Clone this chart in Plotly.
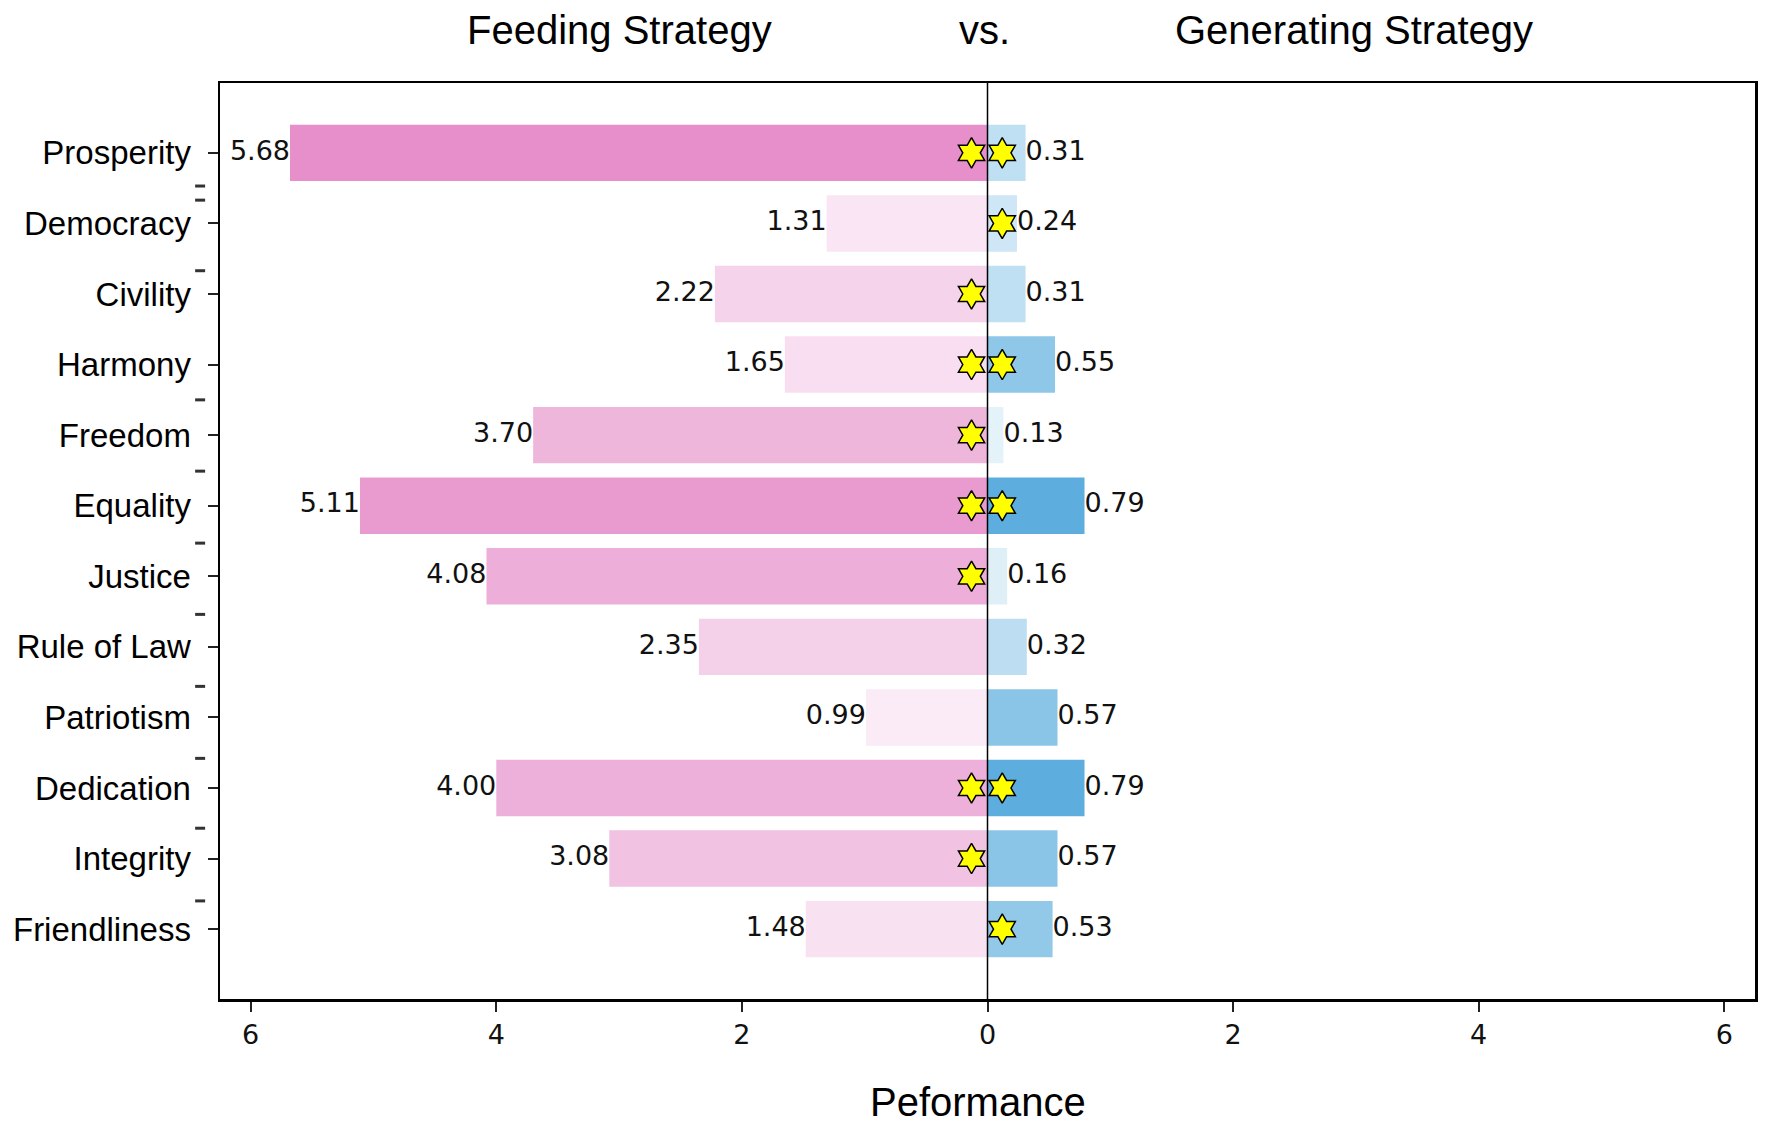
import plotly.graph_objects as go

categories = ["Prosperity", "Democracy", "Civility", "Harmony", "Freedom", "Equality",
              "Justice", "Rule of Law", "Patriotism", "Dedication", "Integrity", "Friendliness"]
feeding = [5.68, 1.31, 2.22, 1.65, 3.70, 5.11, 4.08, 2.35, 0.99, 4.00, 3.08, 1.48]
generating = [0.31, 0.24, 0.31, 0.55, 0.13, 0.79, 0.16, 0.32, 0.57, 0.79, 0.57, 0.53]
feeding_star = [1, 0, 1, 1, 1, 1, 1, 0, 0, 1, 1, 0]
generating_star = [1, 1, 0, 1, 0, 1, 0, 0, 0, 1, 0, 1]
x_ticks = [-6, -4, -2, 0, 2, 4, 6]
x_tick_labels = ["6", "4", "2", "0", "2", "4", "6"]
minor_marks = [0.47, 0.67, 1.67, 3.50, 4.51, 5.53, 6.54, 7.56, 8.58, 9.57, 10.6]

idx = list(range(len(categories)))
PINK = (230, 143, 202)
BLUE = (93, 174, 222)


def blend(base, a):
    return "rgb(%d,%d,%d)" % tuple(round(255 - a * (255 - c)) for c in base)


fmax = max(feeding)
gmax = max(generating)
pink_cols = [blend(PINK, v / fmax) for v in feeding]
blue_cols = [blend(BLUE, v / gmax) for v in generating]

TICKFONT = dict(family="DejaVu Sans", size=27, color="#111111")
LABFONT = dict(family="Liberation Sans, Arial", size=33, color="black")
TITLEFONT = dict(family="Liberation Sans, Arial", size=40, color="black")

fig = go.Figure()
fig.add_trace(go.Bar(y=idx, x=[-v for v in feeding], orientation="h", width=0.8,
                     marker=dict(color=pink_cols, line=dict(width=0)), hoverinfo="skip"))
fig.add_trace(go.Bar(y=idx, x=generating, orientation="h", width=0.8,
                     marker=dict(color=blue_cols, line=dict(width=0)), hoverinfo="skip"))

fig.add_trace(go.Scatter(y=idx, x=[-v for v in feeding], mode="text",
                         text=["%.2f" % v for v in feeding], textposition="middle left",
                         textfont=TICKFONT, hoverinfo="skip"))
fig.add_trace(go.Scatter(y=idx, x=generating, mode="text",
                         text=["%.2f" % v for v in generating], textposition="middle right",
                         textfont=TICKFONT, hoverinfo="skip"))

ls = [i for i, s in zip(idx, feeding_star) if s]
rs = [i for i, s in zip(idx, generating_star) if s]
star = dict(symbol="hexagram", size=23, color="#FFFF00", line=dict(color="black", width=1.5))
fig.add_trace(go.Scatter(y=ls, x=[-0.13] * len(ls), mode="markers", marker=star, hoverinfo="skip"))
fig.add_trace(go.Scatter(y=rs, x=[0.12] * len(rs), mode="markers", marker=star, hoverinfo="skip"))

fig.add_shape(type="line", x0=0, x1=0, y0=0, y1=1, xref="x", yref="paper",
              line=dict(color="black", width=1.5), layer="above")
for m in minor_marks:
    fig.add_shape(type="line", x0=-0.0162, x1=-0.0097, y0=m, y1=m, xref="paper", yref="y",
                  line=dict(color="#333333", width=3))

fig.add_annotation(text="Feeding Strategy", x=0.260, y=1.058, xref="paper", yref="paper",
                   showarrow=False, font=TITLEFONT, xanchor="center", yanchor="middle")
fig.add_annotation(text="vs.", x=0.498, y=1.058, xref="paper", yref="paper",
                   showarrow=False, font=TITLEFONT, xanchor="center", yanchor="middle")
fig.add_annotation(text="Generating Strategy", x=0.739, y=1.058, xref="paper", yref="paper",
                   showarrow=False, font=TITLEFONT, xanchor="center", yanchor="middle")
fig.add_annotation(text="Peformance", x=0.494, y=-0.112, xref="paper", yref="paper",
                   showarrow=False, font=TITLEFONT, xanchor="center", yanchor="middle")

fig.update_layout(
    width=1769, height=1132,
    margin=dict(l=220, r=11, t=83, b=133),
    paper_bgcolor="white", plot_bgcolor="white",
    barmode="overlay", showlegend=False,
    xaxis=dict(range=[-6.25, 6.25], tickvals=x_ticks, ticktext=x_tick_labels,
               tickfont=TICKFONT, ticks="outside", ticklen=10, tickwidth=2, tickcolor="#222",
               showgrid=False, zeroline=False, showline=True, mirror=True,
               linecolor="black", linewidth=2.5, fixedrange=True),
    yaxis=dict(range=[11.99, -0.99], tickvals=idx, ticktext=categories,
               tickfont=LABFONT, ticks="outside", ticklen=10, tickwidth=2, tickcolor="#222",
               ticklabelstandoff=10,
               showgrid=False, zeroline=False, showline=True, mirror=True,
               linecolor="black", linewidth=2.5, fixedrange=True),
)

fig.write_html("out.html", config={"displayModeBar": False, "staticPlot": True},
               post_script="document.body.style.margin='0';document.body.style.overflow='hidden';")
